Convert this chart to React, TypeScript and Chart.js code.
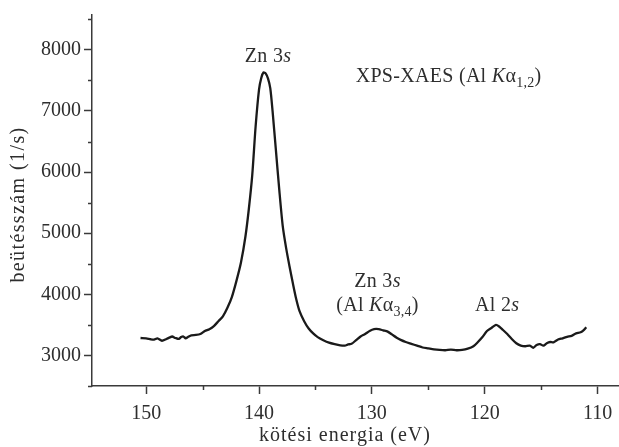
import React, { useEffect, useRef } from "react";
import { Chart, registerables } from "chart.js";

Chart.register(...registerables);

// Binding energy (eV) and count rate (1/s)
const energy = [
  150.5, 150.0, 149.6, 149.3, 149.0, 148.6, 148.2, 147.9, 147.7, 147.4,
  147.1, 146.9, 146.7, 146.5, 146.3, 146.0, 145.6, 145.2, 144.8, 144.4,
  144.0, 143.6, 143.2, 142.8, 142.4, 142.0, 141.6, 141.2, 140.9, 140.6,
  140.3, 140.0, 139.8, 139.6, 139.4, 139.2, 139.0, 138.8, 138.5, 138.2,
  137.9, 137.6, 137.3, 137.0, 136.7, 136.4, 136.0, 135.6, 135.2, 134.8,
  134.3, 133.8, 133.3, 132.8, 132.4, 132.1, 131.8, 131.4, 131.0, 130.6,
  130.2, 129.8, 129.4, 129.0, 128.6, 128.2, 127.8, 127.4, 127.0, 126.5,
  126.0, 125.5, 125.0, 124.5, 124.0, 123.5, 123.0, 122.5, 122.0, 121.5,
  121.0, 120.6, 120.2, 119.8, 119.4, 119.0, 118.7, 118.4, 118.0, 117.6,
  117.2, 116.8, 116.4, 116.0, 115.7, 115.4, 115.1, 114.8, 114.5, 114.2,
  113.9, 113.5, 113.1, 112.7, 112.3, 111.9, 111.5, 111.2, 111.0,
];
const counts = [
  3285, 3280, 3265, 3260, 3280, 3240, 3270, 3295, 3310, 3285,
  3270, 3300, 3310, 3280, 3300, 3330, 3335, 3350, 3400, 3430,
  3480, 3560, 3640, 3780, 3960, 4220, 4520, 4950, 5400, 5950,
  6750, 7350, 7540, 7630, 7610, 7530, 7370, 7000, 6350, 5700,
  5120, 4760, 4460, 4180, 3920, 3720, 3560, 3440, 3360, 3300,
  3250, 3210, 3185, 3165, 3160, 3180, 3190, 3250, 3310, 3350,
  3400, 3430, 3430, 3410, 3390, 3340, 3290, 3250, 3220, 3190,
  3160, 3130, 3115, 3100, 3090, 3085, 3095, 3085, 3090, 3110,
  3150, 3220, 3300, 3400, 3450, 3500, 3470, 3420, 3350, 3270,
  3200, 3160, 3150, 3160, 3125, 3170, 3185, 3160, 3200, 3220,
  3215, 3260, 3280, 3305, 3320, 3360, 3380, 3420, 3460,
];

const xTicks = [110, 115, 120, 125, 130, 135, 140, 145, 150];
const yTicks = [2500, 3000, 3500, 4000, 4500, 5000, 5500, 6000, 6500, 7000, 7500, 8000, 8500];

const xTitle = "kötési energia (eV)";
const yTitle = "beütésszám (1/s)";

type Seg = { t: string; i?: boolean; sub?: boolean };
const peakLabels: { segs: Seg[]; x: number; y: number }[] = [
  { segs: [{ t: "Zn 3" }, { t: "s", i: true }], x: 139.2, y: 7800 },
  {
    segs: [{ t: "XPS-XAES (Al " }, { t: "K", i: true }, { t: "α" }, { t: "1,2", sub: true }, { t: ")" }],
    x: 123.2, y: 7477,
  },
  { segs: [{ t: "Zn 3" }, { t: "s", i: true }], x: 129.5, y: 4127 },
  {
    segs: [{ t: "(Al " }, { t: "K", i: true }, { t: "α" }, { t: "3,4", sub: true }, { t: ")" }],
    x: 129.5, y: 3725,
  },
  { segs: [{ t: "Al 2" }, { t: "s", i: true }], x: 118.9, y: 3725 },
];

const FAMILY = '"Liberation Serif", "Times New Roman", serif';
const TEXT = "#2e2e2e";
const AXIS = "#3a3a3a";

function segFont(s: Seg) {
  const size = s.sub ? 14 : 20;
  return `${s.i ? "italic " : ""}${size}px ${FAMILY}`;
}

const extras = {
  id: "extras",
  afterDraw(chart: any) {
    const ctx = chart.ctx as CanvasRenderingContext2D;
    const xs = chart.scales.x;
    const ys = chart.scales.y;
    const area = chart.chartArea;
    ctx.save();
    // minor ticks
    ctx.strokeStyle = AXIS;
    ctx.lineWidth = 1.5;
    ctx.beginPath();
    xTicks.forEach((v) => {
      if (v % 10 !== 0) {
        const px = Math.round(xs.getPixelForValue(v)) + 0.5;
        ctx.moveTo(px, area.bottom);
        ctx.lineTo(px, area.bottom + 4);
      }
    });
    yTicks.forEach((v) => {
      if (v % 1000 !== 0 || v < 3000) {
        const py = Math.round(ys.getPixelForValue(v)) + 0.5;
        ctx.moveTo(area.left, py);
        ctx.lineTo(area.left - 4, py);
      }
    });
    ctx.stroke();

    // peak annotations
    ctx.fillStyle = TEXT;
    ctx.textBaseline = "alphabetic";
    ctx.textAlign = "left";
    (ctx as any).letterSpacing = "0.3px";
    peakLabels.forEach((lab) => {
      let total = 0;
      lab.segs.forEach((s) => {
        ctx.font = segFont(s);
        total += ctx.measureText(s.t).width;
      });
      let cx = xs.getPixelForValue(lab.x) - total / 2;
      const by = ys.getPixelForValue(lab.y);
      lab.segs.forEach((s) => {
        ctx.font = segFont(s);
        ctx.fillText(s.t, cx, by + (s.sub ? 5 : 0));
        cx += ctx.measureText(s.t).width;
      });
    });

    // axis titles
    ctx.font = `20px ${FAMILY}`;
    ctx.textAlign = "center";
    (ctx as any).letterSpacing = "1px";
    ctx.fillText(xTitle, area.left + 253, 441);
    (ctx as any).letterSpacing = "1.4px";
    ctx.translate(24, (area.top + area.bottom) / 2 + 4);
    ctx.rotate(-Math.PI / 2);
    ctx.fillText(yTitle, 0, 0);
    ctx.restore();
  },
};

export default function App() {
  const ref = useRef<HTMLCanvasElement>(null);
  useEffect(() => {
    if (!ref.current) return;
    const points = energy.map((x, i) => ({ x, y: counts[i] }));
    const chart = new Chart(ref.current, {
      type: "line",
      data: {
        datasets: [
          {
            data: points,
            borderColor: "#1a1a1a",
            borderWidth: 2.3,
            pointRadius: 0,
            tension: 0.25,
            fill: false,
          },
        ],
      },
      options: {
        responsive: false,
        animation: false,
        devicePixelRatio: 1,
        layout: { padding: { top: 9, left: 0, right: 0, bottom: 0 } },
        plugins: { legend: { display: false }, tooltip: { enabled: false } },
        scales: {
          x: {
            type: "linear",
            reverse: true,
            min: 108.1,
            max: 154.8,
            afterBuildTicks: (s: any) => {
              s.ticks = xTicks.map((v) => ({ value: v }));
            },
            afterFit: (s: any) => {
              s.height = 61;
            },
            ticks: {
              autoSkip: false,
              maxRotation: 0,
              padding: 8,
              color: TEXT,
              font: { family: FAMILY, size: 20 },
              callback: (v: any) => (Number(v) % 10 === 0 ? String(v) : ""),
            },
            grid: {
              display: true,
              drawOnChartArea: false,
              drawTicks: true,
              tickLength: 8,
              tickWidth: 1.5,
              tickColor: (c: any) => (c.tick && c.tick.value % 10 === 0 ? AXIS : "rgba(0,0,0,0)"),
            },
            border: { display: true, color: AXIS, width: 1.5 },
          },
          y: {
            type: "linear",
            min: 2500,
            max: 8570,
            afterBuildTicks: (s: any) => {
              s.ticks = yTicks.map((v) => ({ value: v }));
            },
            afterFit: (s: any) => {
              s.width = 92;
            },
            ticks: {
              autoSkip: false,
              padding: 3,
              color: TEXT,
              font: { family: FAMILY, size: 20 },
              callback: (v: any) => (Number(v) % 1000 === 0 && Number(v) >= 3000 ? String(v) : ""),
            },
            grid: {
              display: true,
              drawOnChartArea: false,
              drawTicks: true,
              tickLength: 8,
              tickWidth: 1.5,
              tickColor: (c: any) =>
                c.tick && c.tick.value % 1000 === 0 && c.tick.value >= 3000 ? AXIS : "rgba(0,0,0,0)",
            },
            border: { display: true, color: AXIS, width: 1.5 },
          },
        },
      },
      plugins: [extras],
    });
    return () => chart.destroy();
  }, []);
  return (
    <div style={{ position: "fixed", left: 0, top: 0, width: 619, height: 447, background: "#fff" }}>
      <canvas ref={ref} width={619} height={447} style={{ display: "block" }} />
    </div>
  );
}
